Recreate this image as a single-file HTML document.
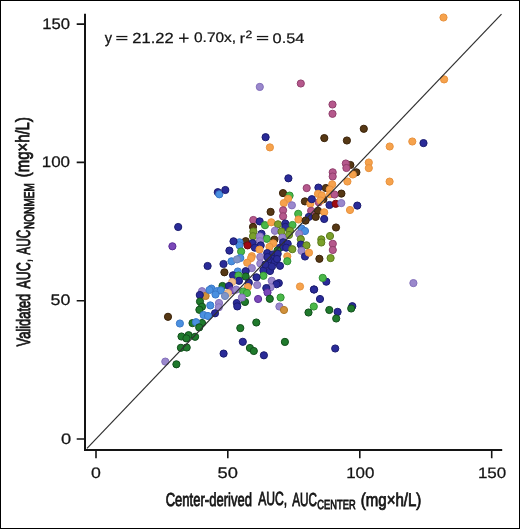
<!DOCTYPE html>
<html><head><meta charset="utf-8"><style>
html,body{margin:0;padding:0;background:#fff;}
body{width:520px;height:529px;overflow:hidden;position:relative;}
svg{position:absolute;left:0;top:0;will-change:transform;}
text{font-family:"Liberation Sans",sans-serif;fill:#151515;text-rendering:geometricPrecision;}
</style></head><body>
<svg width="520" height="529" viewBox="0 0 520 529">
<rect x="0.5" y="0.5" width="519" height="528" fill="#fff" stroke="#000" stroke-width="1"/>
<path d="M85 13.7V450H502.2" fill="none" stroke="#141414" stroke-width="2"/>
<g stroke="#141414" stroke-width="1.6">
<path d="M76.7 439H85M76.7 300.7H85M76.7 162.4H85M76.7 24.1H85"/>
<path d="M96 450V458.3M227.8 450V458.3M359.8 450V458.3M491.7 450V458.3"/>
</g>
<circle cx="443.5" cy="17.5" r="3.6" fill="#f6a24c" stroke="#e8923e" stroke-width="1"/>
<circle cx="444.1" cy="79.4" r="3.6" fill="#f6a24c" stroke="#e8923e" stroke-width="1"/>
<circle cx="259.8" cy="86.9" r="3.6" fill="#9a88cc" stroke="#8470bb" stroke-width="1"/>
<circle cx="300.8" cy="83.5" r="3.6" fill="#b5588c" stroke="#913f6d" stroke-width="1"/>
<circle cx="332.5" cy="104.5" r="3.6" fill="#b5588c" stroke="#913f6d" stroke-width="1"/>
<circle cx="332.5" cy="113.8" r="3.6" fill="#b5588c" stroke="#913f6d" stroke-width="1"/>
<circle cx="363.8" cy="128.8" r="3.6" fill="#563814" stroke="#3a2209" stroke-width="1"/>
<circle cx="324.3" cy="138.1" r="3.6" fill="#563814" stroke="#3a2209" stroke-width="1"/>
<circle cx="346.9" cy="140.5" r="3.6" fill="#563814" stroke="#3a2209" stroke-width="1"/>
<circle cx="265.6" cy="137.2" r="3.6" fill="#2a2b98" stroke="#1b1c70" stroke-width="1"/>
<circle cx="269.9" cy="147.4" r="3.6" fill="#f6a24c" stroke="#e8923e" stroke-width="1"/>
<circle cx="389.7" cy="146.5" r="3.6" fill="#f6a24c" stroke="#e8923e" stroke-width="1"/>
<circle cx="412.3" cy="141.5" r="3.6" fill="#f6a24c" stroke="#e8923e" stroke-width="1"/>
<circle cx="423.5" cy="143.1" r="3.6" fill="#2a2b98" stroke="#1b1c70" stroke-width="1"/>
<circle cx="389.6" cy="181.6" r="3.6" fill="#f6a24c" stroke="#e8923e" stroke-width="1"/>
<circle cx="368.8" cy="162.5" r="3.6" fill="#f6a24c" stroke="#e8923e" stroke-width="1"/>
<circle cx="368.8" cy="168.1" r="3.6" fill="#f6a24c" stroke="#e8923e" stroke-width="1"/>
<circle cx="217.8" cy="192.2" r="3.6" fill="#2a2b98" stroke="#1b1c70" stroke-width="1"/>
<circle cx="219.3" cy="194.3" r="3.6" fill="#4a90e0" stroke="#3a78c8" stroke-width="1"/>
<circle cx="225.3" cy="190.0" r="3.6" fill="#2a2b98" stroke="#1b1c70" stroke-width="1"/>
<circle cx="178.2" cy="227.0" r="3.6" fill="#2a2b98" stroke="#1b1c70" stroke-width="1"/>
<circle cx="172.4" cy="246.3" r="3.6" fill="#7a48b8" stroke="#5a2e98" stroke-width="1"/>
<circle cx="168.0" cy="316.8" r="3.6" fill="#563814" stroke="#3a2209" stroke-width="1"/>
<circle cx="179.9" cy="323.5" r="3.6" fill="#4a90e0" stroke="#3a78c8" stroke-width="1"/>
<circle cx="165.3" cy="361.6" r="3.6" fill="#9a88cc" stroke="#8470bb" stroke-width="1"/>
<circle cx="176.4" cy="364.3" r="3.6" fill="#1f7a2c" stroke="#124f1c" stroke-width="1"/>
<circle cx="413.4" cy="283.1" r="3.6" fill="#9a88cc" stroke="#8470bb" stroke-width="1"/>
<circle cx="288.4" cy="178.3" r="3.6" fill="#2a2b98" stroke="#1b1c70" stroke-width="1"/>
<circle cx="350.4" cy="165.0" r="3.6" fill="#563814" stroke="#3a2209" stroke-width="1"/>
<circle cx="345.8" cy="163.5" r="3.6" fill="#b5588c" stroke="#913f6d" stroke-width="1"/>
<circle cx="346.4" cy="168.0" r="3.6" fill="#b5588c" stroke="#913f6d" stroke-width="1"/>
<circle cx="332.7" cy="172.3" r="3.6" fill="#b5588c" stroke="#913f6d" stroke-width="1"/>
<circle cx="332.7" cy="176.5" r="3.6" fill="#b5588c" stroke="#913f6d" stroke-width="1"/>
<circle cx="356.4" cy="172.3" r="3.6" fill="#563814" stroke="#3a2209" stroke-width="1"/>
<circle cx="352.8" cy="174.5" r="3.6" fill="#f6a24c" stroke="#e8923e" stroke-width="1"/>
<circle cx="347.4" cy="181.5" r="3.6" fill="#f6a24c" stroke="#e8923e" stroke-width="1"/>
<circle cx="325.8" cy="188.0" r="3.6" fill="#563814" stroke="#3a2209" stroke-width="1"/>
<circle cx="332.2" cy="184.3" r="3.6" fill="#f6a24c" stroke="#e8923e" stroke-width="1"/>
<circle cx="329.8" cy="189.5" r="3.6" fill="#f6a24c" stroke="#e8923e" stroke-width="1"/>
<circle cx="341.4" cy="193.6" r="3.6" fill="#563814" stroke="#3a2209" stroke-width="1"/>
<circle cx="330.0" cy="194.3" r="3.6" fill="#f6a24c" stroke="#e8923e" stroke-width="1"/>
<circle cx="334.5" cy="194.5" r="3.6" fill="#b5588c" stroke="#913f6d" stroke-width="1"/>
<circle cx="306.7" cy="188.1" r="3.6" fill="#b5588c" stroke="#913f6d" stroke-width="1"/>
<circle cx="318.4" cy="187.6" r="3.6" fill="#2a2b98" stroke="#1b1c70" stroke-width="1"/>
<circle cx="318.8" cy="202.3" r="3.6" fill="#b5588c" stroke="#913f6d" stroke-width="1"/>
<circle cx="323.4" cy="199.2" r="3.6" fill="#563814" stroke="#3a2209" stroke-width="1"/>
<circle cx="318.0" cy="193.8" r="3.6" fill="#f6a24c" stroke="#e8923e" stroke-width="1"/>
<circle cx="321.8" cy="195.4" r="3.6" fill="#f6a24c" stroke="#e8923e" stroke-width="1"/>
<circle cx="320.5" cy="200.5" r="3.6" fill="#f6a24c" stroke="#e8923e" stroke-width="1"/>
<circle cx="304.9" cy="201.4" r="3.6" fill="#563814" stroke="#3a2209" stroke-width="1"/>
<circle cx="310.3" cy="203.8" r="3.6" fill="#f6a24c" stroke="#e8923e" stroke-width="1"/>
<circle cx="311.8" cy="199.2" r="3.6" fill="#2a2b98" stroke="#1b1c70" stroke-width="1"/>
<circle cx="329.5" cy="205.0" r="3.6" fill="#2a2b98" stroke="#1b1c70" stroke-width="1"/>
<circle cx="335.7" cy="203.8" r="3.6" fill="#a00a12" stroke="#700a10" stroke-width="1"/>
<circle cx="341.3" cy="203.1" r="3.6" fill="#9a88cc" stroke="#8470bb" stroke-width="1"/>
<circle cx="357.3" cy="205.6" r="3.6" fill="#2a2b98" stroke="#1b1c70" stroke-width="1"/>
<circle cx="350.0" cy="210.0" r="3.6" fill="#f6a24c" stroke="#e8923e" stroke-width="1"/>
<circle cx="311.1" cy="210.8" r="3.6" fill="#b5588c" stroke="#913f6d" stroke-width="1"/>
<circle cx="318.0" cy="210.8" r="3.6" fill="#563814" stroke="#3a2209" stroke-width="1"/>
<circle cx="324.2" cy="212.3" r="3.6" fill="#f6a24c" stroke="#e8923e" stroke-width="1"/>
<circle cx="308.8" cy="216.9" r="3.6" fill="#2a2b98" stroke="#1b1c70" stroke-width="1"/>
<circle cx="315.7" cy="216.9" r="3.6" fill="#563814" stroke="#3a2209" stroke-width="1"/>
<circle cx="324.2" cy="219.0" r="3.6" fill="#2a2b98" stroke="#1b1c70" stroke-width="1"/>
<circle cx="298.2" cy="213.8" r="3.6" fill="#4ab848" stroke="#319135" stroke-width="1"/>
<circle cx="298.5" cy="219.5" r="3.6" fill="#f6a24c" stroke="#e8923e" stroke-width="1"/>
<circle cx="305.6" cy="220.6" r="3.6" fill="#563814" stroke="#3a2209" stroke-width="1"/>
<circle cx="336.0" cy="227.5" r="3.6" fill="#563814" stroke="#3a2209" stroke-width="1"/>
<circle cx="301.5" cy="228.5" r="3.6" fill="#4a90e0" stroke="#3a78c8" stroke-width="1"/>
<circle cx="283.0" cy="193.1" r="3.6" fill="#563814" stroke="#3a2209" stroke-width="1"/>
<circle cx="289.6" cy="195.6" r="3.6" fill="#4ab848" stroke="#319135" stroke-width="1"/>
<circle cx="288.1" cy="198.8" r="3.6" fill="#f6a24c" stroke="#e8923e" stroke-width="1"/>
<circle cx="283.8" cy="203.1" r="3.6" fill="#f6a24c" stroke="#e8923e" stroke-width="1"/>
<circle cx="291.9" cy="205.3" r="3.6" fill="#9a88cc" stroke="#8470bb" stroke-width="1"/>
<circle cx="283.1" cy="210.3" r="3.6" fill="#b5588c" stroke="#913f6d" stroke-width="1"/>
<circle cx="283.1" cy="216.3" r="3.6" fill="#b5588c" stroke="#913f6d" stroke-width="1"/>
<circle cx="270.6" cy="211.9" r="3.6" fill="#563814" stroke="#3a2209" stroke-width="1"/>
<circle cx="253.3" cy="220.0" r="3.6" fill="#b5588c" stroke="#913f6d" stroke-width="1"/>
<circle cx="259.7" cy="221.4" r="3.6" fill="#2a2b98" stroke="#1b1c70" stroke-width="1"/>
<circle cx="265.0" cy="225.2" r="3.6" fill="#4ab848" stroke="#319135" stroke-width="1"/>
<circle cx="271.3" cy="222.3" r="3.6" fill="#f6a24c" stroke="#e8923e" stroke-width="1"/>
<circle cx="253.0" cy="226.9" r="3.6" fill="#563814" stroke="#3a2209" stroke-width="1"/>
<circle cx="278.0" cy="224.3" r="3.6" fill="#7aa02a" stroke="#5c7a1e" stroke-width="1"/>
<circle cx="285.3" cy="223.5" r="3.6" fill="#2a2b98" stroke="#1b1c70" stroke-width="1"/>
<circle cx="285.4" cy="226.9" r="3.6" fill="#2a2b98" stroke="#1b1c70" stroke-width="1"/>
<circle cx="292.5" cy="225.0" r="3.6" fill="#4ab848" stroke="#319135" stroke-width="1"/>
<circle cx="253.4" cy="231.5" r="3.6" fill="#7aa02a" stroke="#5c7a1e" stroke-width="1"/>
<circle cx="253.0" cy="236.2" r="3.6" fill="#7aa02a" stroke="#5c7a1e" stroke-width="1"/>
<circle cx="261.5" cy="233.8" r="3.6" fill="#2a2b98" stroke="#1b1c70" stroke-width="1"/>
<circle cx="259.9" cy="236.5" r="3.6" fill="#9a88cc" stroke="#8470bb" stroke-width="1"/>
<circle cx="274.9" cy="230.8" r="3.6" fill="#9a88cc" stroke="#8470bb" stroke-width="1"/>
<circle cx="281.5" cy="231.5" r="3.6" fill="#7aa02a" stroke="#5c7a1e" stroke-width="1"/>
<circle cx="290.0" cy="230.8" r="3.6" fill="#7aa02a" stroke="#5c7a1e" stroke-width="1"/>
<circle cx="305.0" cy="231.0" r="3.6" fill="#4a90e0" stroke="#3a78c8" stroke-width="1"/>
<circle cx="299.2" cy="233.8" r="3.6" fill="#9a88cc" stroke="#8470bb" stroke-width="1"/>
<circle cx="289.0" cy="235.0" r="3.6" fill="#7aa02a" stroke="#5c7a1e" stroke-width="1"/>
<circle cx="266.8" cy="238.8" r="3.6" fill="#4ab848" stroke="#319135" stroke-width="1"/>
<circle cx="259.9" cy="241.2" r="3.6" fill="#9a88cc" stroke="#8470bb" stroke-width="1"/>
<circle cx="245.7" cy="241.2" r="3.6" fill="#563814" stroke="#3a2209" stroke-width="1"/>
<circle cx="239.5" cy="242.3" r="3.6" fill="#4a90e0" stroke="#3a78c8" stroke-width="1"/>
<circle cx="239.5" cy="245.4" r="3.6" fill="#4a90e0" stroke="#3a78c8" stroke-width="1"/>
<circle cx="252.6" cy="243.1" r="3.6" fill="#2a2b98" stroke="#1b1c70" stroke-width="1"/>
<circle cx="247.6" cy="245.4" r="3.6" fill="#a00a12" stroke="#700a10" stroke-width="1"/>
<circle cx="282.3" cy="237.7" r="3.6" fill="#9a88cc" stroke="#8470bb" stroke-width="1"/>
<circle cx="300.8" cy="239.2" r="3.6" fill="#7aa02a" stroke="#5c7a1e" stroke-width="1"/>
<circle cx="274.4" cy="239.6" r="3.6" fill="#563814" stroke="#3a2209" stroke-width="1"/>
<circle cx="273.2" cy="243.4" r="3.6" fill="#f6a24c" stroke="#e8923e" stroke-width="1"/>
<circle cx="283.1" cy="242.3" r="3.6" fill="#2a2b98" stroke="#1b1c70" stroke-width="1"/>
<circle cx="287.7" cy="243.8" r="3.6" fill="#2a2b98" stroke="#1b1c70" stroke-width="1"/>
<circle cx="300.8" cy="244.6" r="3.6" fill="#2a2b98" stroke="#1b1c70" stroke-width="1"/>
<circle cx="306.5" cy="245.3" r="3.6" fill="#7aa02a" stroke="#5c7a1e" stroke-width="1"/>
<circle cx="269.5" cy="246.9" r="3.6" fill="#f6a24c" stroke="#e8923e" stroke-width="1"/>
<circle cx="260.7" cy="245.4" r="3.6" fill="#2a2b98" stroke="#1b1c70" stroke-width="1"/>
<circle cx="254.9" cy="247.7" r="3.6" fill="#2a2b98" stroke="#1b1c70" stroke-width="1"/>
<circle cx="259.5" cy="249.6" r="3.6" fill="#f6a24c" stroke="#e8923e" stroke-width="1"/>
<circle cx="241.1" cy="251.5" r="3.6" fill="#4ab848" stroke="#319135" stroke-width="1"/>
<circle cx="280.0" cy="247.7" r="3.6" fill="#2a2b98" stroke="#1b1c70" stroke-width="1"/>
<circle cx="286.2" cy="247.7" r="3.6" fill="#2a2b98" stroke="#1b1c70" stroke-width="1"/>
<circle cx="277.5" cy="250.5" r="3.6" fill="#1f7a2c" stroke="#124f1c" stroke-width="1"/>
<circle cx="292.3" cy="249.2" r="3.6" fill="#7aa02a" stroke="#5c7a1e" stroke-width="1"/>
<circle cx="301.5" cy="250.8" r="3.6" fill="#9a88cc" stroke="#8470bb" stroke-width="1"/>
<circle cx="267.2" cy="253.1" r="3.6" fill="#2a2b98" stroke="#1b1c70" stroke-width="1"/>
<circle cx="272.5" cy="254.5" r="3.6" fill="#2a2b98" stroke="#1b1c70" stroke-width="1"/>
<circle cx="277.7" cy="253.8" r="3.6" fill="#2a2b98" stroke="#1b1c70" stroke-width="1"/>
<circle cx="251.8" cy="256.2" r="3.6" fill="#f6a24c" stroke="#e8923e" stroke-width="1"/>
<circle cx="260.3" cy="257.0" r="3.6" fill="#9a88cc" stroke="#8470bb" stroke-width="1"/>
<circle cx="287.3" cy="256.3" r="3.6" fill="#f6a24c" stroke="#e8923e" stroke-width="1"/>
<circle cx="305.0" cy="256.5" r="3.6" fill="#2a2b98" stroke="#1b1c70" stroke-width="1"/>
<circle cx="309.0" cy="252.7" r="3.6" fill="#f6a24c" stroke="#e8923e" stroke-width="1"/>
<circle cx="240.3" cy="258.0" r="3.6" fill="#4a90e0" stroke="#3a78c8" stroke-width="1"/>
<circle cx="271.5" cy="258.5" r="3.6" fill="#2a2b98" stroke="#1b1c70" stroke-width="1"/>
<circle cx="233.5" cy="241.3" r="3.6" fill="#2a2b98" stroke="#1b1c70" stroke-width="1"/>
<circle cx="229.4" cy="250.6" r="3.6" fill="#2a2b98" stroke="#1b1c70" stroke-width="1"/>
<circle cx="330.0" cy="236.0" r="3.6" fill="#7aa02a" stroke="#5c7a1e" stroke-width="1"/>
<circle cx="321.3" cy="239.4" r="3.6" fill="#7aa02a" stroke="#5c7a1e" stroke-width="1"/>
<circle cx="321.3" cy="242.5" r="3.6" fill="#7aa02a" stroke="#5c7a1e" stroke-width="1"/>
<circle cx="332.8" cy="243.8" r="3.6" fill="#b5588c" stroke="#913f6d" stroke-width="1"/>
<circle cx="332.8" cy="250.0" r="3.6" fill="#b5588c" stroke="#913f6d" stroke-width="1"/>
<circle cx="319.4" cy="258.8" r="3.6" fill="#563814" stroke="#3a2209" stroke-width="1"/>
<circle cx="330.6" cy="258.1" r="3.6" fill="#7aa02a" stroke="#5c7a1e" stroke-width="1"/>
<circle cx="326.3" cy="281.7" r="3.6" fill="#2a2b98" stroke="#1b1c70" stroke-width="1"/>
<circle cx="322.7" cy="277.9" r="3.6" fill="#4ab848" stroke="#319135" stroke-width="1"/>
<circle cx="314.0" cy="289.5" r="3.6" fill="#2a2b98" stroke="#1b1c70" stroke-width="1"/>
<circle cx="251.1" cy="258.1" r="3.6" fill="#f6a24c" stroke="#e8923e" stroke-width="1"/>
<circle cx="247.2" cy="262.7" r="3.6" fill="#f6a24c" stroke="#e8923e" stroke-width="1"/>
<circle cx="260.3" cy="263.5" r="3.6" fill="#9a88cc" stroke="#8470bb" stroke-width="1"/>
<circle cx="268.8" cy="259.6" r="3.6" fill="#2a2b98" stroke="#1b1c70" stroke-width="1"/>
<circle cx="274.8" cy="262.0" r="3.6" fill="#2a2b98" stroke="#1b1c70" stroke-width="1"/>
<circle cx="287.3" cy="261.2" r="3.6" fill="#4ab848" stroke="#319135" stroke-width="1"/>
<circle cx="280.0" cy="265.8" r="3.6" fill="#2a2b98" stroke="#1b1c70" stroke-width="1"/>
<circle cx="231.5" cy="261.3" r="3.6" fill="#4a90e0" stroke="#3a78c8" stroke-width="1"/>
<circle cx="237.0" cy="259.4" r="3.6" fill="#7e95c9" stroke="#6d84b8" stroke-width="1"/>
<circle cx="251.8" cy="268.1" r="3.6" fill="#9a88cc" stroke="#8470bb" stroke-width="1"/>
<circle cx="245.7" cy="271.2" r="3.6" fill="#2a2b98" stroke="#1b1c70" stroke-width="1"/>
<circle cx="263.4" cy="270.4" r="3.6" fill="#2a2b98" stroke="#1b1c70" stroke-width="1"/>
<circle cx="270.0" cy="271.0" r="3.6" fill="#2a2b98" stroke="#1b1c70" stroke-width="1"/>
<circle cx="245.7" cy="276.5" r="3.6" fill="#1f7a2c" stroke="#124f1c" stroke-width="1"/>
<circle cx="263.4" cy="275.8" r="3.6" fill="#4ab848" stroke="#319135" stroke-width="1"/>
<circle cx="256.5" cy="277.3" r="3.6" fill="#2a2b98" stroke="#1b1c70" stroke-width="1"/>
<circle cx="265.5" cy="264.5" r="3.6" fill="#2a2b98" stroke="#1b1c70" stroke-width="1"/>
<circle cx="272.0" cy="266.5" r="3.6" fill="#2a2b98" stroke="#1b1c70" stroke-width="1"/>
<circle cx="277.0" cy="259.0" r="3.6" fill="#2a2b98" stroke="#1b1c70" stroke-width="1"/>
<circle cx="267.5" cy="257.0" r="3.6" fill="#2a2b98" stroke="#1b1c70" stroke-width="1"/>
<circle cx="237.8" cy="271.5" r="3.6" fill="#4a90e0" stroke="#3a78c8" stroke-width="1"/>
<circle cx="207.6" cy="266.0" r="3.6" fill="#2a2b98" stroke="#1b1c70" stroke-width="1"/>
<circle cx="223.5" cy="264.0" r="3.6" fill="#2a2b98" stroke="#1b1c70" stroke-width="1"/>
<circle cx="224.4" cy="272.3" r="3.6" fill="#563814" stroke="#3a2209" stroke-width="1"/>
<circle cx="233.0" cy="275.3" r="3.6" fill="#2a2b98" stroke="#1b1c70" stroke-width="1"/>
<circle cx="238.5" cy="275.5" r="3.6" fill="#4ab848" stroke="#319135" stroke-width="1"/>
<circle cx="239.0" cy="280.8" r="3.6" fill="#2a2b98" stroke="#1b1c70" stroke-width="1"/>
<circle cx="232.2" cy="282.0" r="3.6" fill="#f3c08a" stroke="#e0a870" stroke-width="1"/>
<circle cx="248.8" cy="282.7" r="3.6" fill="#2a2b98" stroke="#1b1c70" stroke-width="1"/>
<circle cx="257.2" cy="285.0" r="3.6" fill="#9a88cc" stroke="#8470bb" stroke-width="1"/>
<circle cx="271.7" cy="280.8" r="3.6" fill="#9a88cc" stroke="#8470bb" stroke-width="1"/>
<circle cx="278.8" cy="283.1" r="3.6" fill="#2a2b98" stroke="#1b1c70" stroke-width="1"/>
<circle cx="276.5" cy="284.2" r="3.6" fill="#2a2b98" stroke="#1b1c70" stroke-width="1"/>
<circle cx="247.8" cy="287.0" r="3.6" fill="#f6a24c" stroke="#e8923e" stroke-width="1"/>
<circle cx="270.5" cy="287.3" r="3.6" fill="#9a88cc" stroke="#8470bb" stroke-width="1"/>
<circle cx="266.3" cy="288.1" r="3.6" fill="#2a2b98" stroke="#1b1c70" stroke-width="1"/>
<circle cx="222.5" cy="286.0" r="3.6" fill="#1f7a2c" stroke="#124f1c" stroke-width="1"/>
<circle cx="229.0" cy="286.0" r="3.6" fill="#2a2b98" stroke="#1b1c70" stroke-width="1"/>
<circle cx="211.4" cy="288.6" r="3.6" fill="#4a90e0" stroke="#3a78c8" stroke-width="1"/>
<circle cx="216.9" cy="291.2" r="3.6" fill="#4a90e0" stroke="#3a78c8" stroke-width="1"/>
<circle cx="220.8" cy="290.4" r="3.6" fill="#4a90e0" stroke="#3a78c8" stroke-width="1"/>
<circle cx="215.5" cy="294.5" r="3.6" fill="#4a90e0" stroke="#3a78c8" stroke-width="1"/>
<circle cx="231.5" cy="290.4" r="3.6" fill="#7a48b8" stroke="#5a2e98" stroke-width="1"/>
<circle cx="236.2" cy="289.6" r="3.6" fill="#9a88cc" stroke="#8470bb" stroke-width="1"/>
<circle cx="228.0" cy="293.0" r="3.6" fill="#f3c08a" stroke="#e0a870" stroke-width="1"/>
<circle cx="225.0" cy="296.0" r="3.6" fill="#7e95c9" stroke="#6d84b8" stroke-width="1"/>
<circle cx="243.2" cy="291.5" r="3.6" fill="#4ab848" stroke="#319135" stroke-width="1"/>
<circle cx="247.0" cy="293.0" r="3.6" fill="#4ab848" stroke="#319135" stroke-width="1"/>
<circle cx="300.0" cy="286.5" r="3.6" fill="#f6a24c" stroke="#e8923e" stroke-width="1"/>
<circle cx="202.0" cy="291.2" r="3.6" fill="#9a88cc" stroke="#8470bb" stroke-width="1"/>
<circle cx="205.6" cy="296.0" r="3.6" fill="#d0903a" stroke="#b07828" stroke-width="1"/>
<circle cx="199.8" cy="295.0" r="3.6" fill="#2a2b98" stroke="#1b1c70" stroke-width="1"/>
<circle cx="209.5" cy="290.0" r="3.6" fill="#4a90e0" stroke="#3a78c8" stroke-width="1"/>
<circle cx="200.0" cy="301.5" r="3.6" fill="#1f7a2c" stroke="#124f1c" stroke-width="1"/>
<circle cx="202.0" cy="306.7" r="3.6" fill="#1f7a2c" stroke="#124f1c" stroke-width="1"/>
<circle cx="199.4" cy="309.8" r="3.6" fill="#1f7a2c" stroke="#124f1c" stroke-width="1"/>
<circle cx="210.3" cy="305.4" r="3.6" fill="#4a90e0" stroke="#3a78c8" stroke-width="1"/>
<circle cx="219.0" cy="303.0" r="3.6" fill="#9a88cc" stroke="#8470bb" stroke-width="1"/>
<circle cx="218.8" cy="307.3" r="3.6" fill="#9a88cc" stroke="#8470bb" stroke-width="1"/>
<circle cx="236.8" cy="303.0" r="3.6" fill="#2a2b98" stroke="#1b1c70" stroke-width="1"/>
<circle cx="237.3" cy="306.4" r="3.6" fill="#2a2b98" stroke="#1b1c70" stroke-width="1"/>
<circle cx="245.0" cy="301.9" r="3.6" fill="#1f7a2c" stroke="#124f1c" stroke-width="1"/>
<circle cx="241.9" cy="297.5" r="3.6" fill="#9a88cc" stroke="#8470bb" stroke-width="1"/>
<circle cx="267.5" cy="292.5" r="3.6" fill="#7a48b8" stroke="#5a2e98" stroke-width="1"/>
<circle cx="258.1" cy="299.0" r="3.6" fill="#7a48b8" stroke="#5a2e98" stroke-width="1"/>
<circle cx="269.8" cy="298.8" r="3.6" fill="#1f7a2c" stroke="#124f1c" stroke-width="1"/>
<circle cx="280.6" cy="297.5" r="3.6" fill="#4ab848" stroke="#319135" stroke-width="1"/>
<circle cx="215.0" cy="313.3" r="3.6" fill="#2a2b98" stroke="#1b1c70" stroke-width="1"/>
<circle cx="203.6" cy="315.0" r="3.6" fill="#4a90e0" stroke="#3a78c8" stroke-width="1"/>
<circle cx="208.0" cy="316.0" r="3.6" fill="#4a90e0" stroke="#3a78c8" stroke-width="1"/>
<circle cx="192.5" cy="323.1" r="3.6" fill="#1f7a2c" stroke="#124f1c" stroke-width="1"/>
<circle cx="202.0" cy="323.0" r="3.6" fill="#1f7a2c" stroke="#124f1c" stroke-width="1"/>
<circle cx="196.0" cy="322.2" r="3.6" fill="#4a90e0" stroke="#3a78c8" stroke-width="1"/>
<circle cx="199.2" cy="327.4" r="3.6" fill="#1f7a2c" stroke="#124f1c" stroke-width="1"/>
<circle cx="181.5" cy="336.5" r="3.6" fill="#1f7a2c" stroke="#124f1c" stroke-width="1"/>
<circle cx="188.6" cy="335.2" r="3.6" fill="#1f7a2c" stroke="#124f1c" stroke-width="1"/>
<circle cx="195.1" cy="336.8" r="3.6" fill="#1f7a2c" stroke="#124f1c" stroke-width="1"/>
<circle cx="186.4" cy="338.4" r="3.6" fill="#1f7a2c" stroke="#124f1c" stroke-width="1"/>
<circle cx="180.9" cy="347.8" r="3.6" fill="#1f7a2c" stroke="#124f1c" stroke-width="1"/>
<circle cx="186.7" cy="347.5" r="3.6" fill="#1f7a2c" stroke="#124f1c" stroke-width="1"/>
<circle cx="279.4" cy="306.5" r="3.6" fill="#9a88cc" stroke="#8470bb" stroke-width="1"/>
<circle cx="284.0" cy="310.0" r="3.6" fill="#d0903a" stroke="#b07828" stroke-width="1"/>
<circle cx="313.8" cy="306.5" r="3.6" fill="#4ab848" stroke="#319135" stroke-width="1"/>
<circle cx="308.5" cy="312.5" r="3.6" fill="#1f7a2c" stroke="#124f1c" stroke-width="1"/>
<circle cx="320.0" cy="299.0" r="3.6" fill="#2a2b98" stroke="#1b1c70" stroke-width="1"/>
<circle cx="329.3" cy="310.0" r="3.6" fill="#1f7a2c" stroke="#124f1c" stroke-width="1"/>
<circle cx="337.6" cy="311.9" r="3.6" fill="#2a2b98" stroke="#1b1c70" stroke-width="1"/>
<circle cx="336.2" cy="318.5" r="3.6" fill="#1f7a2c" stroke="#124f1c" stroke-width="1"/>
<circle cx="352.3" cy="306.2" r="3.6" fill="#2a2b98" stroke="#1b1c70" stroke-width="1"/>
<circle cx="351.2" cy="308.5" r="3.6" fill="#1f7a2c" stroke="#124f1c" stroke-width="1"/>
<circle cx="284.9" cy="341.9" r="3.6" fill="#1f7a2c" stroke="#124f1c" stroke-width="1"/>
<circle cx="335.2" cy="348.5" r="3.6" fill="#2a2b98" stroke="#1b1c70" stroke-width="1"/>
<circle cx="256.3" cy="322.5" r="3.6" fill="#1f7a2c" stroke="#124f1c" stroke-width="1"/>
<circle cx="240.3" cy="328.1" r="3.6" fill="#1f7a2c" stroke="#124f1c" stroke-width="1"/>
<circle cx="242.8" cy="341.8" r="3.6" fill="#2a2b98" stroke="#1b1c70" stroke-width="1"/>
<circle cx="249.9" cy="348.0" r="3.6" fill="#1f7a2c" stroke="#124f1c" stroke-width="1"/>
<circle cx="253.8" cy="351.0" r="3.6" fill="#1f7a2c" stroke="#124f1c" stroke-width="1"/>
<circle cx="223.6" cy="353.6" r="3.6" fill="#2a2b98" stroke="#1b1c70" stroke-width="1"/>
<circle cx="263.9" cy="355.3" r="3.6" fill="#2a2b98" stroke="#1b1c70" stroke-width="1"/>
<circle cx="314.0" cy="289.5" r="3.6" fill="#2a2b98" stroke="#1b1c70" stroke-width="1"/>
<line x1="87" y1="448.3" x2="501.5" y2="14.2" stroke="#303030" stroke-width="1.2"/>
<g fill="#151515">
<rect x="116.3" y="35.9" width="11.1" height="1.3"/><rect x="116.3" y="38.9" width="11.1" height="1.3"/>
<rect x="256.9" y="35.9" width="11.3" height="1.3"/><rect x="256.9" y="38.9" width="11.3" height="1.3"/>
<rect x="179.1" y="37.55" width="9.5" height="1.4"/><rect x="183.15" y="33.3" width="1.4" height="9.4"/>
</g>
<text transform="translate(-60.818,342.548) scale(1.21740,1.01115)" x="100" y="100" font-size="15" stroke="#151515" stroke-width="0.25">0</text>
<text transform="translate(-68.620,202.958) scale(1.19168,1.01902)" x="100" y="100" font-size="15" stroke="#151515" stroke-width="0.25">50</text>
<text transform="translate(-71.404,64.364) scale(1.13121,1.02570)" x="100" y="100" font-size="15" stroke="#151515" stroke-width="0.25">100</text>
<text transform="translate(-68.778,-72.713) scale(1.11114,1.01641)" x="100" y="100" font-size="15" stroke="#151515" stroke-width="0.25">150</text>
<text transform="translate(-26.947,377.386) scale(1.18033,1.00570)" x="100" y="100" font-size="15" stroke="#151515" stroke-width="0.25">0</text>
<text transform="translate(95.288,376.220) scale(1.22295,1.01865)" x="100" y="100" font-size="15" stroke="#151515" stroke-width="0.25">50</text>
<text transform="translate(233.031,377.564) scale(1.13113,1.00438)" x="100" y="100" font-size="15" stroke="#151515" stroke-width="0.25">100</text>
<text transform="translate(364.699,377.298) scale(1.13222,1.00519)" x="100" y="100" font-size="15" stroke="#151515" stroke-width="0.25">150</text>
<text transform="translate(0.906,-66.580) scale(1.03796,1.09943)" x="100" y="100" font-size="14" stroke="#151515" stroke-width="0.25">y</text>
<text transform="translate(14.329,-61.334) scale(1.18040,1.04263)" x="100" y="100" font-size="14" stroke="#151515" stroke-width="0.25">21.22</text>
<text transform="translate(83.715,-57.015) scale(1.10318,0.99323)" x="100" y="100" font-size="14" stroke="#151515" stroke-width="0.25">0.70x,</text>
<text transform="translate(128.139,-58.059) scale(1.11624,1.00592)" x="100" y="100" font-size="14" stroke="#151515" stroke-width="0.25">r</text>
<text transform="translate(125.016,-68.711) scale(1.20407,1.06451)" x="100" y="100" font-size="10" stroke="#151515" stroke-width="0.25">2</text>
<text transform="translate(155.744,-56.736) scale(1.16833,0.99339)" x="100" y="100" font-size="14" stroke="#151515" stroke-width="0.25">0.54</text>
<text transform="translate(93.235,400.544) scale(0.72449,1.04996)" x="100" y="100" font-size="18" stroke="#151515" stroke-width="0.8">Center-derived</text>
<text transform="translate(190.761,399.166) scale(0.67447,1.05394)" x="100" y="100" font-size="18" stroke="#151515" stroke-width="0.8">AUC,</text>
<text transform="translate(227.079,400.778) scale(0.65085,1.04740)" x="100" y="100" font-size="18" stroke="#151515" stroke-width="0.8">AUC</text>
<text transform="translate(245.813,408.180) scale(0.71556,1.00869)" x="100" y="100" font-size="13" stroke="#151515" stroke-width="0.8">CENTER</text>
<text transform="translate(277.461,403.502) scale(0.83359,1.02041)" x="100" y="100" font-size="18" stroke="#151515" stroke-width="0.8">(mg×h/L)</text>
<text transform="rotate(-90) translate(-417.820,-76.195) scale(0.71428,1.06554)" x="100" y="100" font-size="18" stroke="#151515" stroke-width="0.8">Validated</text>
<text transform="rotate(-90) translate(-357.684,-76.225) scale(0.69112,1.06584)" x="100" y="100" font-size="18" stroke="#151515" stroke-width="0.8">AUC,</text>
<text transform="rotate(-90) translate(-320.252,-76.227) scale(0.65602,1.06586)" x="100" y="100" font-size="18" stroke="#151515" stroke-width="0.8">AUC</text>
<text transform="rotate(-90) translate(-306.410,-74.667) scale(0.77432,1.08795)" x="100" y="100" font-size="13" stroke="#151515" stroke-width="0.8">NONMEM</text>
<text transform="rotate(-90) translate(-259.894,-75.857) scale(0.82739,1.05345)" x="100" y="100" font-size="18" stroke="#151515" stroke-width="0.8">(mg×h/L)</text>
</svg>
</body></html>
